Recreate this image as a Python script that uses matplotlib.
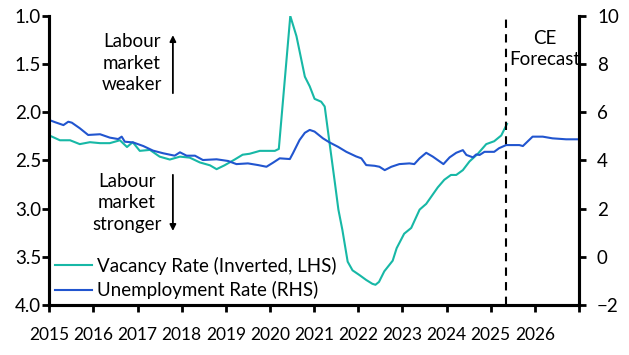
import matplotlib
matplotlib.use("Agg")
import matplotlib.pyplot as plt

plt.rcParams['font.family'] = ['Lato', 'DejaVu Sans']

# Vacancy rate (%), plotted inverted on LHS
vac_x = [2015.00, 2015.24, 2015.47, 2015.69, 2015.92, 2016.15, 2016.37, 2016.60, 2016.76, 2016.89,
         2017.05, 2017.28, 2017.50, 2017.73, 2017.96, 2018.18, 2018.41, 2018.64, 2018.79, 2018.97,
         2019.20, 2019.38, 2019.54, 2019.77, 2020.11, 2020.20, 2020.46, 2020.60, 2020.79, 2020.90,
         2021.01, 2021.16, 2021.24, 2021.35, 2021.47, 2021.55, 2021.64, 2021.76, 2021.87, 2022.03,
         2022.18, 2022.32, 2022.39, 2022.47, 2022.59, 2022.78, 2022.87, 2023.04, 2023.20, 2023.39,
         2023.54, 2023.80, 2023.95, 2024.10, 2024.22, 2024.37, 2024.52, 2024.71, 2024.90, 2025.08,
         2025.24, 2025.37]
vac_y = [2.24, 2.29, 2.29, 2.33, 2.31, 2.32, 2.32, 2.29, 2.36, 2.31,
         2.40, 2.39, 2.46, 2.49, 2.46, 2.47, 2.52, 2.55, 2.59, 2.55,
         2.49, 2.44, 2.43, 2.40, 2.40, 2.38, 1.00, 1.21, 1.63, 1.73,
         1.86, 1.89, 1.94, 2.32, 2.73, 3.01, 3.22, 3.55, 3.64, 3.69,
         3.74, 3.78, 3.79, 3.76, 3.65, 3.54, 3.41, 3.26, 3.20, 3.01,
         2.95, 2.78, 2.70, 2.65, 2.65, 2.60, 2.51, 2.43, 2.33, 2.30,
         2.24, 2.12]

# Unemployment rate (%), RHS (incl. CE forecast)
une_x = [2015.00, 2015.13, 2015.32, 2015.43, 2015.51, 2015.69, 2015.88, 2016.15, 2016.37, 2016.56,
         2016.64, 2016.71, 2016.90, 2017.13, 2017.35, 2017.58, 2017.84, 2017.96, 2018.11, 2018.30,
         2018.48, 2018.79, 2019.05, 2019.24, 2019.50, 2019.73, 2019.92, 2020.07, 2020.22, 2020.45,
         2020.52, 2020.67, 2020.79, 2020.90, 2021.01, 2021.20, 2021.35, 2021.54, 2021.73, 2021.95,
         2022.07, 2022.18, 2022.37, 2022.48, 2022.60, 2022.75, 2022.93, 2023.16, 2023.27, 2023.39,
         2023.54, 2023.69, 2023.93, 2024.07, 2024.22, 2024.37, 2024.45, 2024.60, 2024.67, 2024.75,
         2024.86, 2025.08, 2025.19, 2025.35, 2025.65, 2025.73, 2025.95, 2026.18, 2026.40, 2026.71,
         2026.97]
une_y = [5.68, 5.59, 5.47, 5.61, 5.57, 5.34, 5.06, 5.09, 4.95, 4.89,
         4.99, 4.78, 4.75, 4.60, 4.41, 4.30, 4.20, 4.34, 4.20, 4.20,
         4.02, 4.05, 3.98, 3.85, 3.88, 3.81, 3.74, 3.91, 4.09, 4.06,
         4.30, 4.85, 5.15, 5.27, 5.20, 4.92, 4.75, 4.57, 4.36, 4.17,
         4.09, 3.81, 3.78, 3.74, 3.60, 3.74, 3.85, 3.88, 3.85, 4.09,
         4.32, 4.16, 3.85, 4.13, 4.32, 4.43, 4.23, 4.13, 4.25, 4.23,
         4.36, 4.36, 4.51, 4.64, 4.64, 4.60, 4.99, 4.99, 4.92, 4.88,
         4.88]

year_ticks = list(range(2015, 2028))
year_labels = [str(y) for y in range(2015, 2027)] + ['']
forecast_start = 2025.35

TEAL = '#17b8a6'
BLUE = '#2155cf'
FS = 13.5

fig = plt.figure(figsize=(6.29, 3.55), dpi=100)
ax = fig.add_axes([0.0784, 0.1408, 0.842, 0.8142])
ax2 = ax.twinx()

l1, = ax.plot(vac_x, vac_y, color=TEAL, lw=1.5, label='Vacancy Rate (Inverted, LHS)')
l2, = ax2.plot(une_x, une_y, color=BLUE, lw=1.5, label='Unemployment Rate (RHS)')

ax.set_xlim(2015, 2027)
ax.set_ylim(4.0, 1.0)
ax.set_yticks([1.0, 1.5, 2.0, 2.5, 3.0, 3.5, 4.0])
ax.set_yticklabels(['1.0', '1.5', '2.0', '2.5', '3.0', '3.5', '4.0'])
ax2.set_ylim(-2, 10)
ax2.set_yticks([-2, 0, 2, 4, 6, 8, 10])
ax.set_xticks(year_ticks)
ax.set_xticklabels(year_labels)

for a in (ax, ax2):
    a.spines['top'].set_visible(False)
    for s in ('left', 'right', 'bottom'):
        a.spines[s].set_linewidth(2.2)
ax.tick_params(axis='y', length=5, width=2, labelsize=FS, pad=1)
ax.tick_params(axis='x', length=5, width=2, labelsize=12.5, pad=11)
ax2.tick_params(axis='y', length=5, width=2, labelsize=FS, pad=8)

ax.axvline(forecast_start, color='black', lw=1.5, ls=(0, (4, 3)))

ax.text(2016.87, 1.49, 'Labour\nmarket\nweaker', ha='center', va='center', fontsize=FS,
        linespacing=1.3)
ax.annotate('', xy=(2017.8, 1.17), xytext=(2017.8, 1.83),
            arrowprops=dict(arrowstyle='-|>', color='black', lw=1.3, mutation_scale=9))
ax.text(2016.76, 2.94, 'Labour\nmarket\nstronger', ha='center', va='center', fontsize=FS,
        linespacing=1.3)
ax.annotate('', xy=(2017.8, 3.26), xytext=(2017.8, 2.62),
            arrowprops=dict(arrowstyle='-|>', color='black', lw=1.3, mutation_scale=9))
ax.text(2026.22, 1.34, 'CE\nForecast', ha='center', va='center', fontsize=FS,
        linespacing=1.3)

ax.legend(handles=[l1, l2], loc='lower left', bbox_to_anchor=(0.0, 0.0), frameon=False,
          fontsize=FS, handlelength=2.0, handletextpad=0.25, labelspacing=0.35,
          borderaxespad=0.1, borderpad=0.2)

fig.savefig('out.png', dpi=100)
